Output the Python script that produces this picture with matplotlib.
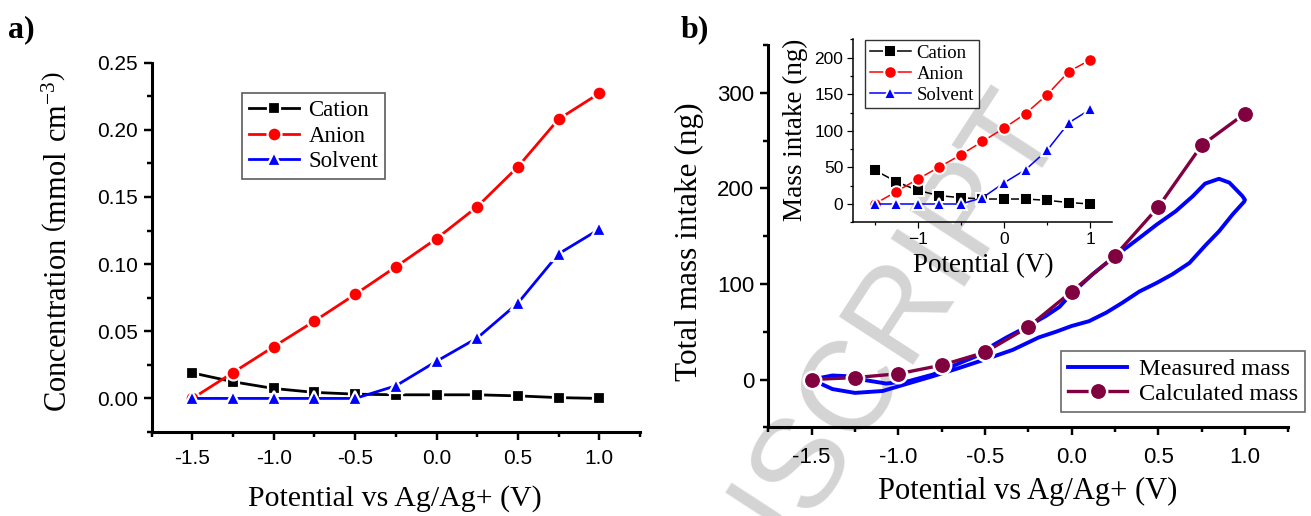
import matplotlib
matplotlib.use("Agg")
import matplotlib.pyplot as plt
from matplotlib.ticker import MultipleLocator, FormatStrFormatter

# ---------------- data ----------------
potential = [-1.5, -1.25, -1.0, -0.75, -0.5, -0.25, 0.0, 0.25, 0.5, 0.75, 1.0]

# (a) concentrations, mmol cm^-3
conc_cation = [0.019, 0.0124, 0.0074, 0.0045, 0.0032, 0.0027, 0.0027, 0.0027, 0.0019, 0.0006, 0.0]
conc_anion = [0.0, 0.0193, 0.0386, 0.0576, 0.0775, 0.098, 0.119, 0.1428, 0.1725, 0.208, 0.2272]
conc_solvent = [0.0, 0.0, 0.0, 0.0, 0.0, 0.0094, 0.0277, 0.045, 0.071, 0.1077, 0.126]

# (b) inset: mass intake per species, ng
mass_cation = [46.4, 30.5, 18.6, 11.4, 8.6, 6.8, 6.8, 6.8, 5.0, 2.0, 0.0]
mass_anion = [0.0, 16.8, 34.0, 50.5, 67.3, 85.5, 103.6, 123.6, 149.5, 181.0, 197.0]
mass_solvent = [0.0, 0.0, 0.0, 0.0, 0.0, 8.6, 29.0, 47.0, 73.6, 111.0, 129.5]

# (b) calculated total mass, ng
mass_calculated = [0.0, 2.0, 6.0, 15.0, 28.5, 55.0, 92.0, 129.5, 180.5, 245.0, 278.3]

# (b) measured total mass over a full potential cycle (anodic then cathodic sweep)
measured_potential = [
    -1.50, -1.38, -1.30, -1.19, -1.07, -0.94, -0.80, -0.69, -0.55, -0.50,
    -0.38, -0.27, -0.15, -0.07, 0.00, 0.12, 0.25, 0.39, 0.49, 0.60,
    0.70, 0.77, 0.85, 0.91, 0.985, 1.00,
    0.995, 0.93, 0.85, 0.77, 0.68, 0.58, 0.49, 0.39, 0.29, 0.20,
    0.10, 0.00, -0.09, -0.19, -0.34, -0.50, -0.65, -0.80, -0.96, -1.09,
    -1.25, -1.38, -1.50,
]
measured_mass = [
    0.0, 4.2, 3.5, -0.7, -4.2, -1.7, 5.2, 13.9, 24.4, 31.0,
    43.6, 54.1, 66.3, 76.0, 90.0, 110.0, 129.0, 148.0, 162.0, 176.0,
    192.0, 205.0, 210.0, 206.0, 192.0, 188.0,
    186.0, 173.0, 155.0, 140.0, 122.0, 110.0, 101.0, 92.0, 80.0, 70.0,
    61.0, 56.0, 50.0, 44.0, 31.0, 21.0, 12.0, 3.5, -5.0, -12.0,
    -14.0, -10.0, 0.0,
]

# ---------------- style ----------------
SERIF = ["Liberation Serif", "DejaVu Serif"]
SANS = ["Liberation Sans", "DejaVu Sans"]
plt.rcParams["font.family"] = SANS
plt.rcParams["mathtext.fontset"] = "custom"
plt.rcParams["mathtext.rm"] = "Liberation Serif"

W, H = 1311, 516
fig = plt.figure(figsize=(W / 100, H / 100), dpi=100)


def px_axes(left, top, right, bottom):
    return fig.add_axes([left / W, 1 - bottom / H, (right - left) / W, (bottom - top) / H])


def style_axes(ax, tick_size, spine_w=2.2, major_len=6, minor_len=3.5, xpad=3, ypad=3):
    for s in ("top", "right"):
        ax.spines[s].set_visible(False)
    for s in ("left", "bottom"):
        ax.spines[s].set_linewidth(spine_w)
    ax.tick_params(which="both", direction="out", width=spine_w * 0.8)
    ax.tick_params(which="major", length=major_len, labelsize=tick_size)
    ax.tick_params(axis="x", which="major", pad=xpad)
    ax.tick_params(axis="y", which="major", pad=ypad)
    ax.tick_params(which="minor", length=minor_len)
    ax.patch.set_alpha(0)


def series(ax, x, y, color, marker, ms, lw, mew, label, zorder=3):
    return ax.plot(x, y, color=color, lw=lw, marker=marker, ms=ms,
                   mfc=color, mec="white", mew=mew, label=label, zorder=zorder)


def fig_text_px(x, y_from_top, s, **kw):
    return fig.text(x / W, 1 - y_from_top / H, s, **kw)


# ---------------- watermark ----------------
fig_text_px(985, 70, "MANUSCRIPT", fontsize=92, color="#d4d4d4",
            rotation=57, rotation_mode="anchor", ha="right", va="top",
            family=SANS, zorder=-5)

# ---------------- panel (a) ----------------
axa = px_axes(151.7, 62.7, 640, 432)
style_axes(axa, 15, xpad=6, ypad=4)
series(axa, potential, conc_cation, "black", "s", 9, 2.0, 1.6, "Cation")
series(axa, potential, conc_anion, "#ff0000", "o", 10, 2.0, 1.6, "Anion")
series(axa, potential, conc_solvent, "#0000ff", "^", 10, 2.0, 1.6, "Solvent")
axa.set_xlim(-1.75, 1.25)
axa.set_ylim(-0.025, 0.25)
axa.xaxis.set_major_locator(MultipleLocator(0.5))
axa.xaxis.set_minor_locator(MultipleLocator(0.25))
axa.yaxis.set_major_locator(MultipleLocator(0.05))
axa.yaxis.set_minor_locator(MultipleLocator(0.025))
axa.xaxis.set_major_formatter(FormatStrFormatter("%.1f"))
axa.yaxis.set_major_formatter(FormatStrFormatter("%.2f"))
axa.set_xlabel("Potential vs Ag/Ag+ (V)", family=SERIF, fontsize=21.5)
axa.set_ylabel(r"Concentration $\left(\mathrm{mmol\ cm^{-3}}\right)$", family=SERIF, fontsize=22)
axa.xaxis.set_label_coords(0.498, -0.143)
axa.yaxis.set_label_coords(-0.159, 0.514)
lega = axa.legend(loc="upper left", bbox_to_anchor=(0.185, 0.918), borderaxespad=0,
                  prop={"family": SERIF, "size": 16.5}, frameon=True, fancybox=False,
                  edgecolor="#333333", handlelength=2.2, handletextpad=0.4,
                  labelspacing=0.2, borderpad=0.3)
lega.get_frame().set_linewidth(1.2)
fig_text_px(8, 30, "a)", family=SERIF, fontsize=23, fontweight="bold",
            va="center", ha="left")

# ---------------- panel (b) ----------------
axb = px_axes(768.3, 45, 1288.3, 427.3)
style_axes(axb, 16, xpad=8, ypad=4)
axb.plot(measured_potential, measured_mass, color="#0000ff", lw=2.8, label="Measured mass",
         zorder=3, solid_joinstyle="round")
series(axb, potential, mass_calculated, "#800040", "o", 12.5, 2.4, 1.8, "Calculated mass", zorder=4)
axb.set_xlim(-1.75, 1.25)
axb.set_ylim(-50, 350)
axb.xaxis.set_major_locator(MultipleLocator(0.5))
axb.xaxis.set_minor_locator(MultipleLocator(0.25))
axb.yaxis.set_major_locator(MultipleLocator(100))
axb.yaxis.set_minor_locator(MultipleLocator(50))
axb.xaxis.set_major_formatter(FormatStrFormatter("%.1f"))
axb.set_xlabel("Potential vs Ag/Ag+ (V)", family=SERIF, fontsize=22)
axb.set_ylabel("Total mass intake (ng)", family=SERIF, fontsize=22.5)
axb.xaxis.set_label_coords(0.499, -0.13)
axb.yaxis.set_label_coords(-0.124, 0.485)
legb = axb.legend(loc="upper left", bbox_to_anchor=(0.563, 0.20), borderaxespad=0,
                  prop={"family": SERIF, "size": 17.5}, frameon=True, fancybox=False,
                  edgecolor="#444444", handlelength=2.4, handletextpad=0.5,
                  labelspacing=0.1, borderpad=0.3)
legb.get_frame().set_linewidth(1.2)
fig_text_px(681, 30, "b)", family=SERIF, fontsize=23, fontweight="bold",
            va="center", ha="left")

# ---------------- inset ----------------
axi = px_axes(853, 39.3, 1112, 222.3)
style_axes(axi, 12.5, spine_w=1.1, major_len=4, minor_len=2.5)
series(axi, potential, mass_cation, "black", "s", 8, 1.1, 1.4, "Cation")
series(axi, potential, mass_anion, "#ff0000", "o", 9, 1.1, 1.4, "Anion")
series(axi, potential, mass_solvent, "#0000ff", "^", 9, 1.1, 1.4, "Solvent")
axi.set_xlim(-1.75, 1.25)
axi.set_ylim(-25, 225)
axi.xaxis.set_major_locator(MultipleLocator(1))
axi.xaxis.set_minor_locator(MultipleLocator(0.5))
axi.yaxis.set_major_locator(MultipleLocator(50))
axi.yaxis.set_minor_locator(MultipleLocator(25))
axi.set_xlabel("Potential (V)", family=SERIF, fontsize=19.5)
axi.set_ylabel("Mass intake (ng)", family=SERIF, fontsize=19.5)
axi.xaxis.set_label_coords(0.502, -0.168)
axi.yaxis.set_label_coords(-0.174, 0.504)
legi = axi.legend(loc="upper left", bbox_to_anchor=(0.046, 0.996), borderaxespad=0,
                  prop={"family": SERIF, "size": 13.5}, frameon=True, fancybox=False,
                  edgecolor="black", handlelength=2.2, handletextpad=0.3,
                  labelspacing=0.2, borderpad=0.25)
legi.get_frame().set_linewidth(1.0)

fig.savefig("out.png", dpi=100)
